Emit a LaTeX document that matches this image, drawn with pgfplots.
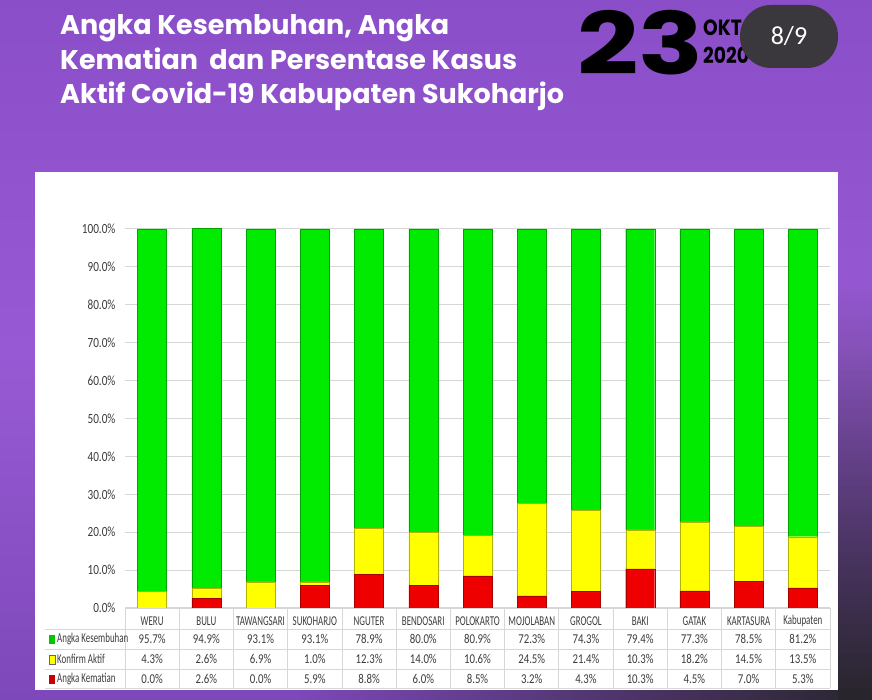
\documentclass[border=0pt]{standalone}
\usepackage{pgfplots}
\pgfplotsset{compat=1.18}
\usepackage{fontspec}
\setmainfont{Carlito}
\newfontfamily\cond[FakeStretch=0.8]{Carlito}
\newfontfamily\vcond[FakeStretch=0.66]{Carlito}
\newfontfamily\pop{Poppins}
\usetikzlibrary{fadings}
\definecolor{bgtop}{RGB}{138,78,200}
\definecolor{bgmid}{RGB}{152,90,212}
\definecolor{bgbot}{RGB}{125,72,185}
\definecolor{darkbg}{RGB}{40,38,44}
\definecolor{badge}{RGB}{58,56,60}
\definecolor{cgreen}{RGB}{0,235,0}
\definecolor{cyellow}{RGB}{255,255,0}
\definecolor{cred}{RGB}{238,0,0}
\definecolor{gridc}{RGB}{215,215,215}
\definecolor{txt}{RGB}{60,60,60}
\tikzfading[name=fadedown, top color=transparent!100, bottom color=transparent!0]
\tikzfading[name=faderight, left color=transparent!100, right color=transparent!0]
\begin{document}
\begin{tikzpicture}[x=1pt,y=1pt]
% background
\shade[top color=bgtop, bottom color=bgbot, middle color=bgmid] (0,0) rectangle (872,700);
\fill[darkbg, path fading=fadedown] (838,0) rectangle (872,420);
\fill[darkbg, path fading=faderight] (300,0) rectangle (872,12);
% title
\node[anchor=base west, text=white, font=\pop\bfseries\fontsize{27}{27}\selectfont, inner sep=0] at (60,665) {Angka Kesembuhan, Angka};
\node[anchor=base west, text=white, font=\pop\bfseries\fontsize{27}{27}\selectfont, inner sep=0] at (60,630) {Kematian\ \ dan Persentase Kasus};
\node[anchor=base west, text=white, font=\pop\bfseries\fontsize{27}{27}\selectfont, inner sep=0] at (60,596) {Aktif Covid-19 Kabupaten Sukoharjo};
% date
\node[anchor=base west, text=black, font=\pop\bfseries\fontsize{86}{86}\selectfont, inner sep=0] at (577,625) {\scalebox{1.25}[1]{23}};
\node[anchor=base west, text=black, font=\pop\bfseries\fontsize{22}{22}\selectfont, inner sep=0] at (703,664) {\scalebox{0.85}[1]{OKTOBER}};
\node[anchor=base west, text=black, font=\pop\bfseries\fontsize{22}{22}\selectfont, inner sep=0] at (703,636) {\scalebox{0.85}[1]{2020}};
\fill[badge, rounded corners=31pt] (740,632) rectangle (838,695);
\node[text=white, font=\fontsize{26}{26}\selectfont] at (789,664) {8/9};
% white panel
\fill[white] (35,10) rectangle (838,528);
\begin{axis}[
  at={(125pt,92pt)}, anchor=south west,
  width=705pt, height=379pt, scale only axis,
  xmin=-0.5, xmax=12.5, ymin=0, ymax=100,
  ybar stacked, bar width=29pt,
  axis line style={draw=none}, tick style={draw=none},
  ymajorgrids, grid style={gridc, line width=1pt},
  /pgf/number format/assume math mode=true,
  ytick={0,10,...,100},
  yticklabel={\pgfmathprintnumber[fixed,fixed zerofill,precision=1]{\tick}\%},
  yticklabel style={font=\cond\fontsize{14}{14}\selectfont, text=txt, anchor=east, xshift=-6pt},
  xtick={0,...,12},
  xticklabels={WERU,BULU,TAWANGSARI,SUKOHARJO,NGUTER,BENDOSARI,POLOKARTO,MOJOLABAN,GROGOL,BAKI,GATAK,KARTASURA,Kabupaten},
  xticklabel style={font=\vcond\fontsize{13.5}{13.5}\selectfont, text=txt, anchor=center, yshift=-13pt},
  clip=true,
]
\addplot[fill=cred, draw=cred!70!black, line width=0.4pt] coordinates {(0,0.0) (1,2.6) (2,0.0) (3,5.9) (4,8.8) (5,6.0) (6,8.5) (7,3.2) (8,4.3) (9,10.3) (10,4.5) (11,7.0) (12,5.3)};
\addplot[fill=cyellow, draw=cyellow!70!black, line width=0.4pt] coordinates {(0,4.3) (1,2.6) (2,6.9) (3,1.0) (4,12.3) (5,14.0) (6,10.6) (7,24.5) (8,21.4) (9,10.3) (10,18.2) (11,14.5) (12,13.5)};
\addplot[fill=cgreen, draw=cgreen!70!black, line width=0.4pt] coordinates {(0,95.7) (1,94.9) (2,93.1) (3,93.1) (4,78.9) (5,80.0) (6,80.9) (7,72.3) (8,74.3) (9,79.4) (10,77.3) (11,78.5) (12,81.2)};
\end{axis}
% table grid
\draw[gridc, line width=0.8pt] (125,92) -- (830,92);
\foreach \yy in {71,51,31,12} \draw[gridc, line width=0.8pt] (45,\yy) -- (830,\yy);
\foreach \k in {0,...,13} \draw[gridc, line width=0.8pt] ({125+\k*54.2308},92) -- ({125+\k*54.2308},12);
% legend column
\fill[cgreen!85!black] (49,56) rectangle (55,65);
\fill[cyellow] (49,36) rectangle (55,45); \draw[black!60, line width=0.3pt] (49,36) rectangle (55,45);
\fill[cred!85!black] (49,16) rectangle (55,25);
\begin{scope}[every node/.style={font=\vcond\fontsize{13.5}{13.5}\selectfont, text=txt, inner sep=0}]
\node[anchor=west] at (57,61) {Angka Kesembuhan};
\node[anchor=west] at (57,41) {Konfirm Aktif};
\node[anchor=west] at (57,21) {Angka Kematian};
\end{scope}
\begin{scope}[every node/.style={font=\cond\fontsize{13.5}{13.5}\selectfont, text=txt, inner sep=0}]
\foreach \v [count=\i from 0] in {95.7,94.9,93.1,93.1,78.9,80.0,80.9,72.3,74.3,79.4,77.3,78.5,81.2}
  \node at ({152.115+\i*54.2308},61) {\v\%};
\foreach \v [count=\i from 0] in {4.3,2.6,6.9,1.0,12.3,14.0,10.6,24.5,21.4,10.3,18.2,14.5,13.5}
  \node at ({152.115+\i*54.2308},41) {\v\%};
\foreach \v [count=\i from 0] in {0.0,2.6,0.0,5.9,8.8,6.0,8.5,3.2,4.3,10.3,4.5,7.0,5.3}
  \node at ({152.115+\i*54.2308},21) {\v\%};
\end{scope}
\end{tikzpicture}
\end{document}
